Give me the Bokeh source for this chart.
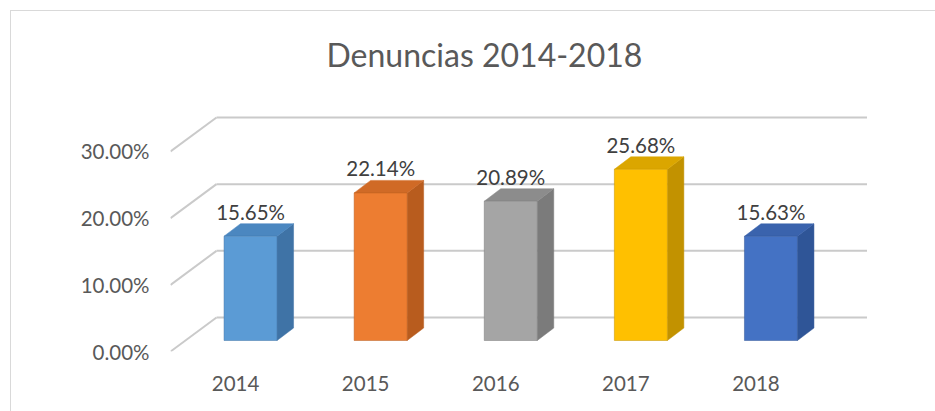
from bokeh.plotting import figure
from bokeh.models import Range1d, FixedTicker
from bokeh.core.properties import value
from bokeh.embed import file_html
from bokeh.resources import INLINE

# ---- data ----
years = ["2014", "2015", "2016", "2017", "2018"]
shares = [15.65, 22.14, 20.89, 25.68, 15.63]          # percent
share_labels = ["15.65%", "22.14%", "20.89%", "25.68%", "15.63%"]
y_ticks = [0, 10, 20, 30]
y_tick_labels = ["0.00%", "10.00%", "20.00%", "30.00%"]
title_text = "Denuncias 2014-2018"

front_colors = ["#5B9BD5", "#ED7D31", "#A5A5A5", "#FFC000", "#4472C4"]
side_colors = ["#3F73A6", "#B85C1E", "#7B7B7B", "#C29200", "#2F5597"]
top_colors = ["#4B87C0", "#D06A26", "#8C8C8C", "#DBA600", "#3A63AD"]

# ---- layout ----
W, H = 935, 411
ML, MT, MB, MR = 170, 80, 60, 0
XPX = 130.1      # px per category
YPX = 6.667      # px per percentage point

FDX, FDY = 46 / XPX, 34 / YPX        # floor depth (front plane -> back wall)
BX0, BY0 = 15 / XPX, 11 / YPX        # bar front face offset from front plane
BDX, BDY = 16.5 / XPX, 12.5 / YPX    # bar depth
HW = 26.5 / XPX                      # bar half width

FONT = "Lato"
AX_COLOR = "#595959"
BORDER = "#D9D9D9"

p = figure(width=W, height=H, output_backend="svg", toolbar_location=None,
           x_range=Range1d(-0.5, -0.5 + (W - ML - MR) / XPX),
           y_range=Range1d(0, (H - MT - MB) / YPX),
           min_border_left=ML, min_border_top=MT, min_border_bottom=MB,
           min_border_right=MR, title=title_text)

p.title.align = "left"
p.title.offset = 156
p.title.standoff = 14
p.title.text_font = FONT
p.title.text_font_size = "32px"
p.title.text_font_style = "normal"
p.title.text_color = AX_COLOR

p.outline_line_color = None
p.background_fill_color = "white"
p.border_fill_color = None
p.styles = {
    "background-color": "white",
    "background-image": f"linear-gradient({BORDER},{BORDER}), linear-gradient({BORDER},{BORDER})",
    "background-size": "100% 1px, 1px 100%",
    "background-position": "10px 10px, 10px 10px",
    "background-repeat": "no-repeat",
}
p.xgrid.visible = False
p.ygrid.visible = False

p.yaxis.ticker = FixedTicker(ticks=y_ticks)
p.yaxis.major_label_overrides = dict(zip(y_ticks, y_tick_labels))
p.xaxis.ticker = FixedTicker(ticks=list(range(len(years))))
p.xaxis.major_label_overrides = dict(zip(range(len(years)), years))
for ax in (p.xaxis, p.yaxis):
    ax.axis_line_color = None
    ax.major_tick_line_color = None
    ax.minor_tick_line_color = None
    ax.major_tick_out = 0
    ax.major_tick_in = 0
    ax.minor_tick_out = 0
    ax.major_label_text_font = FONT
    ax.major_label_text_font_size = "20.5px"
    ax.major_label_text_color = AX_COLOR
p.yaxis.major_label_standoff = 21
p.xaxis.major_label_standoff = 24

# ---- walls / gridlines ----
x_left = -0.5
x_right = len(years) - 0.5
GRID = "#CACACA"
p.segment(x0=[x_left] * len(y_ticks), y0=y_ticks,
          x1=[x_left + FDX] * len(y_ticks), y1=[t + FDY for t in y_ticks],
          line_color=GRID, line_width=2)
p.segment(x0=[x_left + FDX] * len(y_ticks), y0=[t + FDY for t in y_ticks],
          x1=[x_right + FDX] * len(y_ticks), y1=[t + FDY for t in y_ticks],
          line_color=GRID, line_width=2)

# ---- 3D bars ----
idx = list(range(len(years)))
lefts = [i + BX0 - HW for i in idx]
rights = [i + BX0 + HW for i in idx]
tops = [v + BY0 for v in shares]

side_xs = [[r, r + BDX, r + BDX, r] for r in rights]
side_ys = [[BY0, BY0 + BDY, t + BDY, t] for t in tops]
p.patches(xs=side_xs, ys=side_ys, fill_color=side_colors, line_color=side_colors, line_width=0.5)

top_xs = [[l, l + BDX, r + BDX, r] for l, r in zip(lefts, rights)]
top_ys = [[t, t + BDY, t + BDY, t] for t in tops]
p.patches(xs=top_xs, ys=top_ys, fill_color=top_colors, line_color=top_colors, line_width=0.5)

p.quad(left=lefts, right=rights, bottom=[BY0] * len(idx), top=tops,
       fill_color=front_colors, line_color=side_colors, line_width=0.5)

# ---- data labels ----
p.text(x=[i + BX0 for i in idx], y=[t + BDY for t in tops], text=share_labels,
       text_align="center", text_baseline="bottom", y_offset=0,
       text_font=value(FONT), text_font_size="20.5px", text_color="#404040")

open("out.html", "w").write(file_html(p, INLINE))
